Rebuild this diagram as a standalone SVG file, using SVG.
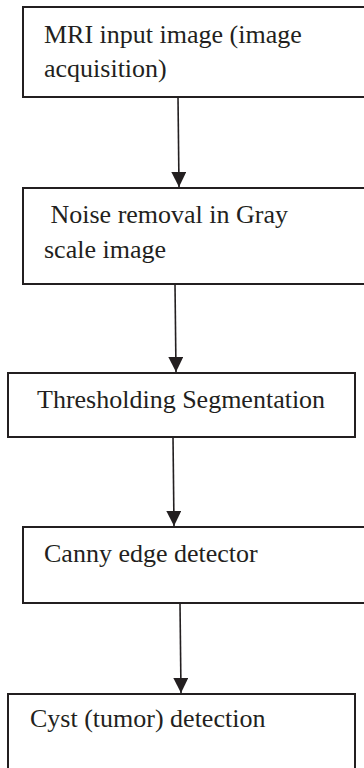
<svg xmlns="http://www.w3.org/2000/svg" width="364" height="768" viewBox="0 0 364 768">
<style>
.box{fill:#fff;stroke:#231f20;stroke-width:2}
.t{font-family:"Liberation Serif","Times New Roman",serif;font-size:26px;fill:#231f20}
.c{stroke:#231f20;stroke-width:1.6;fill:none}
</style>
<defs>
<marker id="ah" viewBox="0 0 10 10" refX="10" refY="5" markerWidth="15" markerHeight="15" markerUnits="userSpaceOnUse" orient="auto">
<path d="M0,0 L10,5 L0,10 Z" fill="#231f20"/>
</marker>
</defs>
<rect width="364" height="768" fill="#fff"/>
<g id="n1">
<rect class="box" x="23" y="7" width="360" height="90"/>
<text class="t" x="44" y="43">MRI input image (image</text>
<text class="t" x="44" y="77">acquisition)</text>
</g>
<g id="n2">
<rect class="box" x="23" y="188" width="360" height="96"/>
<text class="t" x="44" y="223" xml:space="preserve"> Noise removal in Gray</text>
<text class="t" x="44" y="258">scale image</text>
</g>
<g id="n3">
<rect class="box" x="8" y="373" width="347" height="64"/>
<text class="t" x="37" y="408">Thresholding Segmentation</text>
</g>
<g id="n4">
<rect class="box" x="23" y="527" width="360" height="76"/>
<text class="t" x="44" y="562">Canny edge detector</text>
</g>
<g id="n5">
<rect class="box" x="8" y="694" width="347" height="90"/>
<text class="t" x="30" y="727">Cyst (tumor) detection</text>
</g>
<g id="connectors">
<line class="c" x1="178" y1="97" x2="179" y2="187" marker-end="url(#ah)"/>
<line class="c" x1="175" y1="284" x2="176" y2="372" marker-end="url(#ah)"/>
<line class="c" x1="173" y1="437" x2="174" y2="526" marker-end="url(#ah)"/>
<line class="c" x1="180" y1="603" x2="181" y2="693" marker-end="url(#ah)"/>
</g>
</svg>
